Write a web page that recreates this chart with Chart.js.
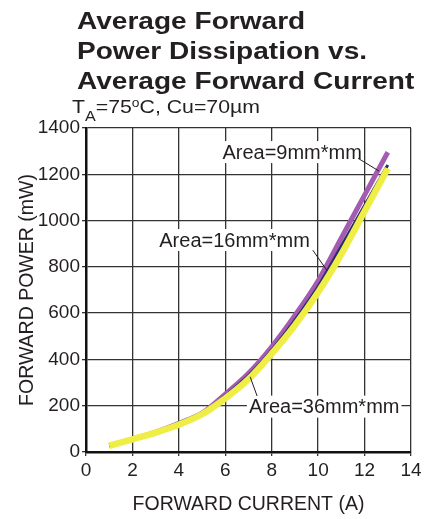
<!DOCTYPE html>
<html>
<head>
<meta charset="utf-8">
<script src="https://cdn.jsdelivr.net/npm/chart.js@4.4.1/dist/chart.umd.min.js"></script>
<style>
  html, body { margin: 0; padding: 0; background: #fff; }
  #wrap { position: relative; width: 430px; height: 519px; overflow: hidden; }
  #chart { position: absolute; left: 0; top: 0; }
  .ttl { position: absolute; left: 77px; font: bold 23px "Liberation Sans", Arial, sans-serif;
         line-height: 30px; color: #231f20; white-space: nowrap;
         transform: scaleX(1.22); transform-origin: 0 0; }
  #sub { position: absolute; left: 72px; top: 98px; font: 18.5px "Liberation Sans", Arial, sans-serif;
         line-height: 18px; color: #231f20; white-space: nowrap;
         transform: scaleX(1.15); transform-origin: 0 0; }
  #sub sub { font-size: 14px; vertical-align: -8px; line-height: 0; }
  #sub sup { font-size: 12px; vertical-align: 6px; line-height: 0; }
</style>
</head>
<body>
<div id="wrap">
  <canvas id="chart" width="430" height="519"></canvas>
  <div class="ttl" style="top:6px">Average Forward</div>
  <div class="ttl" style="top:36px">Power Dissipation vs.</div>
  <div class="ttl" style="top:66px">Average Forward Current</div>
  <div id="sub">T<sub>A</sub>=75<sup>o</sup>C, Cu=70µm</div>
</div>
<script>
// datos
const current = [1, 2, 3, 4, 5, 6, 7, 8, 9, 10, 11, 12, 13];
const area9  = [27, 56, 86, 124, 168, 250, 340, 455, 590, 740, 925, 1110, 1295];
const area16 = [27, 54, 79, 124, 166, 243, 330, 440, 570, 715, 890, 1065, 1240];
const area36 = [27, 55, 84, 118, 163, 232, 315, 425, 548, 690, 855, 1040, 1225];

const xTicks = [0, 2, 4, 6, 8, 10, 12, 14];
const yTicks = [0, 200, 400, 600, 800, 1000, 1200, 1400];

// etiquetas: texto, posicion del texto, punto final de la linea guia (en unidades de datos)
const labelText = ["Area=9mm*mm", "Area=16mm*mm", "Area=36mm*mm"];
const labelAt   = [[8.88, 1296], [6.4, 916], [10.26, 196]];
const leaderFrom = [[11.72, 1269], [9.77, 872], [7.37, 242]];
const leaderTo   = [[12.62, 1214], [10.37, 786], [7.07, 325]];

const FONT = '"Liberation Sans", Arial, sans-serif';
const INK = "#231f20";

function pts(ys) {
  return current.map((x, i) => ({ x: x, y: ys[i] }));
}

const labelsPlugin = {
  id: "areaLabels",
  afterDatasetsDraw(chart) {
    const { ctx, scales: { x, y } } = chart;
    ctx.save();
    ctx.font = "20px " + FONT;
    ctx.textAlign = "center";
    ctx.textBaseline = "middle";
    labelText.forEach((t, i) => {
      const cx = x.getPixelForValue(labelAt[i][0]);
      const cy = y.getPixelForValue(labelAt[i][1]);
      const w = ctx.measureText(t).width;
      ctx.fillStyle = "#fff";
      ctx.fillRect(cx - w / 2 - 2, cy - 11, w + 4, 22);
      ctx.fillStyle = INK;
      ctx.fillText(t, cx, cy + 1);
      ctx.strokeStyle = INK;
      ctx.lineWidth = 1;
      ctx.beginPath();
      ctx.moveTo(x.getPixelForValue(leaderFrom[i][0]), y.getPixelForValue(leaderFrom[i][1]));
      ctx.lineTo(x.getPixelForValue(leaderTo[i][0]), y.getPixelForValue(leaderTo[i][1]));
      ctx.stroke();
    });
    ctx.restore();
  }
};

// order: el amarillo se dibuja encima, el morado al fondo
new Chart(document.getElementById("chart"), {
  type: "line",
  data: {
    datasets: [
      { label: "Area=9mm*mm", data: pts(area9), borderColor: "#a35cb1", borderWidth: 5, order: 3 },
      { label: "Area=16mm*mm", data: pts(area16), borderColor: "#2d2c6c", borderWidth: 3, order: 2 },
      { label: "Area=36mm*mm", data: pts(area36), borderColor: "#efee45", borderWidth: 6.5, order: 1 }
    ]
  },
  options: {
    responsive: false,
    animation: false,
    events: [],
    cubicInterpolationMode: "monotone",
    elements: { point: { radius: 0 }, line: { borderCapStyle: "butt" } },
    layout: { padding: { left: 0, right: 19, top: 128, bottom: 0 } },
    plugins: { legend: { display: false }, tooltip: { enabled: false } },
    scales: {
      x: {
        type: "linear", min: 0, max: 14,
        afterFit: s => { s.height = 67; },
        afterBuildTicks: s => { s.ticks = xTicks.map(v => ({ value: v })); },
        ticks: { color: INK, font: { family: FONT, size: 19 }, padding: 3, maxRotation: 0,
                 callback: v => String(v) },
        grid: { color: "#333", lineWidth: 1.3, tickLength: 4 },
        border: { color: "#111", width: 2.5 },
        title: { display: true, text: "FORWARD CURRENT (A)", color: INK,
                 font: { family: FONT, size: 19.5 }, padding: { top: 0, bottom: 3 } }
      },
      y: {
        type: "linear", min: 0, max: 1400,
        afterFit: s => { s.width = 86; },
        afterBuildTicks: s => { s.ticks = yTicks.map(v => ({ value: v })); },
        ticks: { color: INK, font: { family: FONT, size: 19 }, padding: 2,
                 callback: v => String(v) },
        grid: { color: "#333", lineWidth: 1.3, tickLength: 4 },
        border: { color: "#111", width: 2.5 },
        title: { display: true, text: "FORWARD POWER (mW)", color: INK,
                 font: { family: FONT, size: 19.5 }, padding: { top: 16, bottom: 0 } }
      }
    }
  },
  plugins: [labelsPlugin]
});
</script>
</body>
</html>
